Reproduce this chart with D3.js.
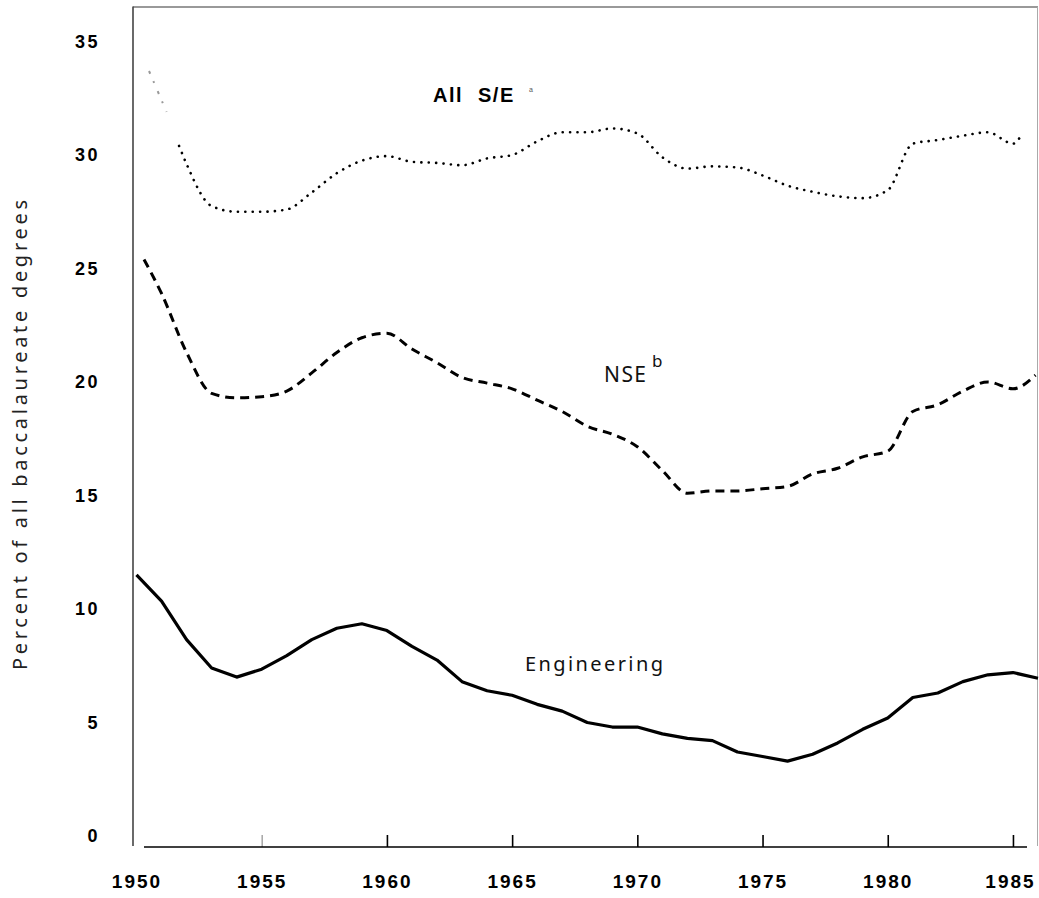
<!DOCTYPE html>
<html><head><meta charset="utf-8">
<script src="https://cdn.jsdelivr.net/npm/d3@7/dist/d3.min.js"></script>
<style>body{margin:0;background:#fff}</style>
</head><body>
<svg id="c" width="1039" height="898"></svg>
<script>
// ---- data ----
const xTickYears = [1950, 1955, 1960, 1965, 1970, 1975, 1980, 1985];
const yTickValues = [0, 5, 10, 15, 20, 25, 30, 35];

const engYears = [1950,1951,1952,1953,1954,1955,1956,1957,1958,1959,1960,1961,1962,1963,1964,1965,1966,1967,1968,1969,1970,1971,1972,1973,1974,1975,1976,1977,1978,1979,1980,1981,1982,1983,1984,1985,1986];
const engValues = [11.5,10.35,8.65,7.4,7.0,7.35,7.95,8.65,9.15,9.35,9.05,8.35,7.75,6.8,6.4,6.2,5.8,5.5,5.0,4.8,4.8,4.5,4.3,4.2,3.7,3.5,3.3,3.6,4.1,4.7,5.2,6.1,6.3,6.8,7.1,7.2,6.95];

const nseYears = [1950.3,1951,1952,1953,1954,1955,1956,1957,1958,1959,1960,1961,1962,1963,1964,1965,1966,1967,1968,1969,1970,1971,1972,1973,1974,1975,1976,1977,1978,1979,1980,1981,1982,1983,1984,1985,1985.9];
const nseValues = [25.4,23.9,21.3,19.5,19.3,19.35,19.6,20.4,21.3,21.95,22.15,21.45,20.85,20.2,19.95,19.7,19.2,18.7,18.05,17.7,17.15,16.1,15.1,15.2,15.2,15.3,15.4,15.95,16.2,16.7,16.95,18.7,19.0,19.6,20.0,19.7,20.3];

const allYears = [1951.7,1952,1953,1954,1955,1956,1957,1958,1959,1960,1961,1962,1963,1964,1965,1966,1967,1968,1969,1970,1971,1972,1973,1974,1975,1976,1977,1978,1979,1980,1981,1982,1983,1984,1985,1985.4];
const allValues = [30.4,29.6,27.75,27.5,27.5,27.6,28.35,29.2,29.75,29.95,29.7,29.65,29.55,29.85,30.0,30.6,31.0,31.0,31.17,30.95,29.9,29.4,29.5,29.45,29.1,28.65,28.38,28.18,28.1,28.45,30.5,30.66,30.85,31.0,30.5,31.0];
// faded beginning of the All S/E curve
const allFadedYears = [1950.5, 1951.2];
const allFadedValues = [33.7, 31.9];

const yTitle = "Percent of all baccalaureate degrees";

// ---- drawing ----
const svg = d3.select("#c");
svg.append("rect").attr("width",1039).attr("height",898).attr("fill","#fff");

const x = d3.scaleLinear().domain([1950, 1986]).range([136.5, 1038]);
const y = d3.scaleLinear().domain([0, 35]).range([836, 41.5]);

const boldFont = "'Liberation Sans', Arial, sans-serif";
const lightFont = "'Noto Sans', 'Open Sans', sans-serif";

// frame
svg.append("line").attr("x1",133).attr("x2",1038).attr("y1",7).attr("y2",7).attr("stroke","#777").attr("stroke-width",1.3);
svg.append("line").attr("x1",1037.5).attr("x2",1037.5).attr("y1",7).attr("y2",846).attr("stroke","#aaa").attr("stroke-width",1);
svg.append("line").attr("x1",133).attr("x2",133).attr("y1",6.5).attr("y2",846).attr("stroke","#444").attr("stroke-width",1.6);

// x axis
const xAxis = d3.axisBottom(x).tickValues(xTickYears).tickFormat(d3.format("d"))
  .tickSizeInner(-12).tickSizeOuter(0).tickPadding(28);
const gx = svg.append("g").attr("transform","translate(0,847)").call(xAxis);
gx.select(".domain").remove();
gx.selectAll(".tick line").attr("stroke-width",1.6)
  .attr("opacity", d => d === 1950 ? 0 : 1)
  .attr("stroke", d => d === 1955 ? "#aaa" : "#000");
gx.selectAll(".tick text").attr("font-family",boldFont)
  .attr("font-weight","bold").attr("font-size",19).attr("letter-spacing","2px").attr("fill","#000")
  .attr("dx", d => d === 1985 ? -3 : 0);
svg.append("line").attr("x1",144).attr("x2",1027).attr("y1",847).attr("y2",847).attr("stroke","#000").attr("stroke-width",1.6);

// y axis labels
const yAxis = d3.axisLeft(y).tickValues(yTickValues).tickFormat(d3.format("d")).tickSize(0).tickPadding(33);
const gy = svg.append("g").attr("transform","translate(133,0)").call(yAxis);
gy.select(".domain").remove();
gy.selectAll(".tick text").attr("font-family",boldFont)
  .attr("font-weight","bold").attr("font-size",18).attr("letter-spacing","2.5px").attr("fill","#000");

// y title
svg.append("text").attr("transform","translate(27,435) rotate(-90)")
  .attr("text-anchor","middle").attr("font-family",lightFont)
  .attr("font-weight",400).attr("font-size",20).attr("fill","#222")
  .attr("textLength",470).attr("lengthAdjust","spacing").text(yTitle);

// lines
const line = d3.line().x(d => x(d[0])).y(d => y(d[1]));
const smooth = d3.line().x(d => x(d[0])).y(d => y(d[1])).curve(d3.curveMonotoneX);

svg.append("path").datum(allFadedYears.map((t,i)=>[t, allFadedValues[i]]))
  .attr("d", line).attr("fill","none").attr("stroke","#999").attr("stroke-width",2)
  .attr("stroke-dasharray","3 8 2 9");

svg.append("path").datum(allYears.map((t,i)=>[t, allValues[i]]))
  .attr("d", smooth).attr("fill","none").attr("stroke","#000").attr("stroke-width",2.6)
  .attr("stroke-linecap","round").attr("stroke-dasharray","0.1 7.3");

svg.append("path").datum(nseYears.map((t,i)=>[t, nseValues[i]]))
  .attr("d", smooth).attr("fill","none").attr("stroke","#000").attr("stroke-width",3)
  .attr("stroke-dasharray","9 6");

svg.append("path").datum(engYears.map((t,i)=>[t, engValues[i]]))
  .attr("d", line).attr("fill","none").attr("stroke","#000").attr("stroke-width",3.2)
  .attr("stroke-linejoin","round");

// series labels
const lab = svg.append("g");
const allT = lab.append("text").attr("x",433).attr("y",102)
  .attr("font-family",boldFont).attr("font-weight","bold")
  .attr("font-size",20).attr("letter-spacing","1.5px").attr("fill","#000");
allT.append("tspan").text("All");
allT.append("tspan").attr("x",478).text("S/E");
lab.append("text").attr("x",529).attr("y",92).attr("font-family",boldFont)
  .attr("font-size",7).attr("fill","#555").text("a");

lab.append("text").attr("x",604).attr("y",382)
  .attr("font-family",lightFont).attr("font-weight",400)
  .attr("font-size",21).attr("fill","#111").attr("textLength",42).attr("lengthAdjust","spacing").text("NSE");
lab.append("text").attr("x",652).attr("y",367)
  .attr("font-family",lightFont).attr("font-weight",400)
  .attr("font-size",17).attr("fill","#111").text("b");

lab.append("text").attr("x",525).attr("y",671)
  .attr("font-family",lightFont).attr("font-weight",400)
  .attr("font-size",20).attr("fill","#111").attr("textLength",138).attr("lengthAdjust","spacing").text("Engineering");
</script>
</body></html>
